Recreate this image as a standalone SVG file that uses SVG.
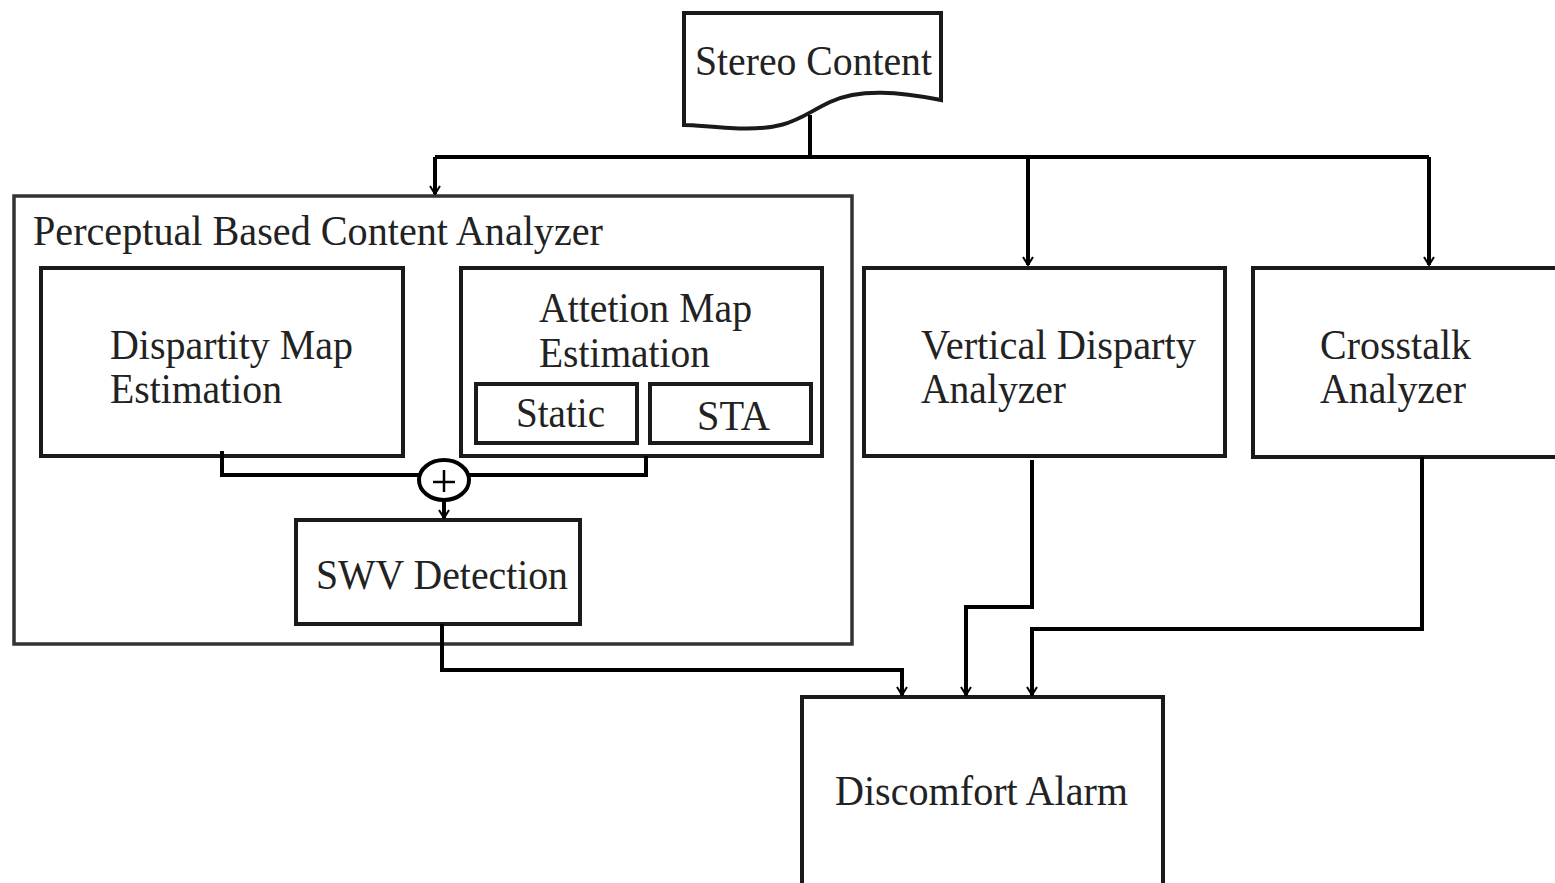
<svg xmlns="http://www.w3.org/2000/svg" width="1555" height="883" viewBox="0 0 1555 883">
<style>
.box{fill:#fff;stroke:#1a1a1a;stroke-width:4}
.outer{fill:#fff;stroke:#333;stroke-width:3.5}
.t{font-family:'Liberation Serif','DejaVu Serif',serif;font-size:42px;fill:#222}
.c{fill:none;stroke:#000;stroke-width:4}
</style>
<defs>
<marker id="ah" viewBox="0 0 12 12" refX="11" refY="6" markerWidth="12" markerHeight="12" markerUnits="userSpaceOnUse" orient="auto">
<path d="M3,1 L11,6 L3,11" fill="none" stroke="#000" stroke-width="2"/>
</marker>
</defs>
<rect width="1555" height="883" fill="#fff"/>
<g id="stereo">
<path class="box" d="M684,13 L941,13 L941,100 C900,92 860,88 830,102 C800,116 790,132 730,128 C710,127 695,125 684,125 Z"/>
<text class="t" x="695" y="75" textLength="237" lengthAdjust="spacingAndGlyphs">Stereo Content</text>
</g>
<g id="analyzer">
<rect class="outer" x="14" y="196" width="838" height="448"/>
<text class="t" x="33" y="245" textLength="570" lengthAdjust="spacingAndGlyphs">Perceptual Based Content Analyzer</text>
</g>
<g id="disparity">
<rect class="box" x="41" y="268" width="362" height="188"/>
<text class="t" x="110" y="359" textLength="243" lengthAdjust="spacingAndGlyphs">Dispartity Map</text>
<text class="t" x="110" y="403" textLength="172" lengthAdjust="spacingAndGlyphs">Estimation</text>
</g>
<g id="attention">
<rect class="box" x="461" y="268" width="361" height="188"/>
<text class="t" x="539" y="322" textLength="213" lengthAdjust="spacingAndGlyphs">Attetion Map</text>
<text class="t" x="539" y="367" textLength="171" lengthAdjust="spacingAndGlyphs">Estimation</text>
</g>
<g id="static">
<rect class="box" x="476" y="384" width="161" height="59"/>
<text class="t" x="516" y="427" textLength="89" lengthAdjust="spacingAndGlyphs">Static</text>
</g>
<g id="sta">
<rect class="box" x="650" y="384" width="161" height="59"/>
<text class="t" x="697" y="430" textLength="73" lengthAdjust="spacingAndGlyphs">STA</text>
</g>
<g id="sum">
<ellipse cx="444" cy="480" rx="25" ry="20" fill="#fff" stroke="#000" stroke-width="4"/>
<path d="M444,470 V492 M433,482 H455" stroke="#000" stroke-width="2.5"/>
</g>
<g id="swv">
<rect class="box" x="296" y="520" width="284" height="104"/>
<text class="t" x="316" y="589" textLength="252" lengthAdjust="spacingAndGlyphs">SWV Detection</text>
</g>
<g id="vertical">
<rect class="box" x="864" y="268" width="361" height="188"/>
<text class="t" x="921" y="359" textLength="275" lengthAdjust="spacingAndGlyphs">Vertical Disparty</text>
<text class="t" x="921" y="403" textLength="145" lengthAdjust="spacingAndGlyphs">Analyzer</text>
</g>
<g id="crosstalk">
<rect class="box" x="1253" y="268" width="310" height="189"/>
<text class="t" x="1320" y="359" textLength="151" lengthAdjust="spacingAndGlyphs">Crosstalk</text>
<text class="t" x="1320" y="403" textLength="146" lengthAdjust="spacingAndGlyphs">Analyzer</text>
</g>
<g id="alarm">
<rect class="box" x="802" y="697" width="361" height="195"/>
<text class="t" x="835" y="805" textLength="293" lengthAdjust="spacingAndGlyphs">Discomfort Alarm</text>
</g>
<g id="connectors">
<path class="c" d="M810,115 V157"/>
<path class="c" d="M435,157 H1429"/>
<path class="c" d="M435,157 V194" marker-end="url(#ah)"/>
<path class="c" d="M1028,157 V265" marker-end="url(#ah)"/>
<path class="c" d="M1429,157 V265" marker-end="url(#ah)"/>
<path class="c" d="M222,451 V475 H419"/>
<path class="c" d="M646,456 V475 H469"/>
<path class="c" d="M444,500 V518" marker-end="url(#ah)"/>
<path class="c" d="M442,624 V670 H902 V695" marker-end="url(#ah)"/>
<path class="c" d="M1032,460 V607 H966 V695" marker-end="url(#ah)"/>
<path class="c" d="M1422,457 V629 H1032 V695" marker-end="url(#ah)"/>
</g>
</svg>
